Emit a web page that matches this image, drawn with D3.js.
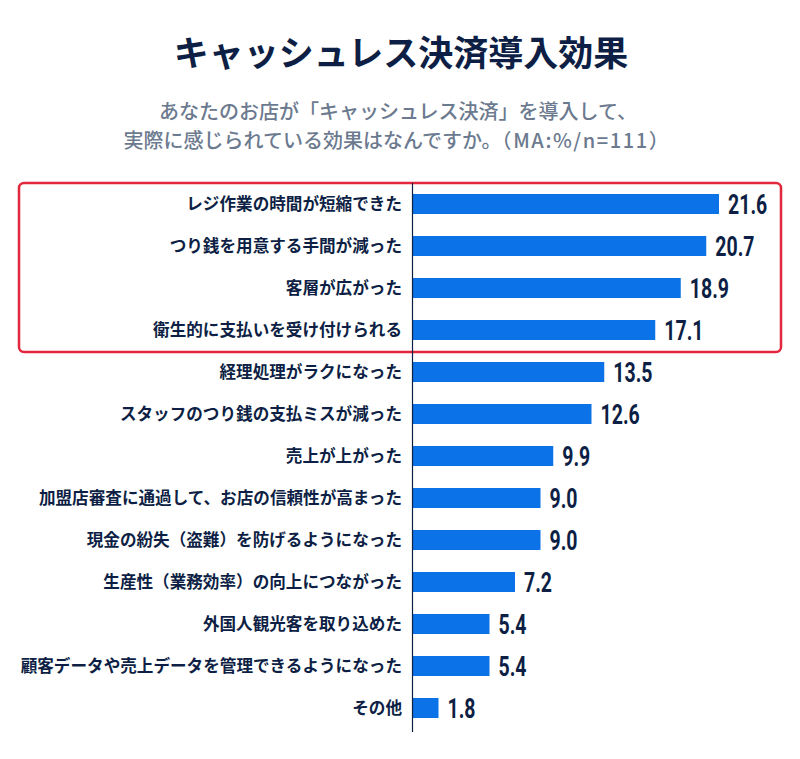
<!DOCTYPE html>
<html><head><meta charset="utf-8">
<script src="https://cdn.jsdelivr.net/npm/d3@7"></script>
<style>
html,body{margin:0;padding:0;background:#fff;}
svg{display:block;}
</style></head>
<body>
<svg id="chart" width="800" height="759"></svg>
<script>
const categories = [
  "レジ作業の時間が短縮できた",
  "つり銭を用意する手間が減った",
  "客層が広がった",
  "衛生的に支払いを受け付けられる",
  "経理処理がラクになった",
  "スタッフのつり銭の支払ミスが減った",
  "売上が上がった",
  "加盟店審査に通過して、お店の信頼性が高まった",
  "現金の紛失（盗難）を防げるようになった",
  "生産性（業務効率）の向上につながった",
  "外国人観光客を取り込めた",
  "顧客データや売上データを管理できるようになった",
  "その他"
];
const values = [21.6, 20.7, 18.9, 17.1, 13.5, 12.6, 9.9, 9.0, 9.0, 7.2, 5.4, 5.4, 1.8];
const titleText = "キャッシュレス決済導入効果";
const subtitleLine1 = "あなたのお店が「キャッシュレス決済」を導入して、";
const subtitleLine2 = "実際に感じられている効果はなんですか。";
const subtitleNote = "（MA:%/n=111）";
const highlightCount = 4;

const svg = d3.select("#chart");
const navy = "#0e1f45";
const jp = "'Noto Sans CJK JP','Noto Sans',sans-serif";

svg.append("text").attr("x", 401).attr("y", 66).attr("text-anchor", "middle")
  .attr("font-family", jp).attr("font-weight", 700).attr("font-size", 35)
  .attr("fill", navy).text(titleText);

const subStyle = s => s.attr("text-anchor", "middle").attr("font-family", jp)
  .attr("font-weight", 500).attr("font-size", 20).attr("fill", "#6c7a8f");
svg.append("text").attr("x", 398).attr("y", 119).call(subStyle).text(subtitleLine1);
const t2 = svg.append("text").attr("x", 397).attr("y", 148).call(subStyle);
t2.append("tspan").text(subtitleLine2);
t2.append("tspan").attr("letter-spacing", 1.6).text(subtitleNote);

const x0 = 413;
const x = d3.scaleLinear().domain([0, 21.6]).range([x0, 719]);
const y = d3.scaleBand().domain(categories).range([183, 729]).paddingInner(0.524).paddingOuter(0.262);

// highlight box
const yTop = y(categories[0]) - 11, yBot = y(categories[highlightCount - 1]) + y.bandwidth() + 12;
svg.append("rect").attr("x", 19).attr("y", yTop).attr("width", 762).attr("height", yBot - yTop)
  .attr("rx", 5).attr("fill", "none").attr("stroke", "#e3263c").attr("stroke-width", 2.5);

svg.selectAll("rect.bar").data(values).join("rect").attr("class", "bar")
  .attr("x", x0).attr("y", (d, i) => y(categories[i]))
  .attr("width", d => x(d) - x0).attr("height", y.bandwidth())
  .attr("fill", "#0b72e7");

svg.append("line").attr("x1", 412.5).attr("x2", 412.5).attr("y1", 183).attr("y2", 732)
  .attr("stroke", navy).attr("stroke-width", 1.2);

svg.selectAll("text.cat").data(categories).join("text").attr("class", "cat")
  .attr("x", 402).attr("y", d => y(d) + y.bandwidth() / 2).attr("dy", "0.36em")
  .attr("text-anchor", "end").attr("font-family", jp).attr("font-weight", 700)
  .attr("font-size", 16.6).attr("fill", navy).text(d => d);

svg.selectAll("text.val").data(values).join("text").attr("class", "val")
  .attr("transform", (d, i) => `translate(${x(d) + 9},${y(categories[i]) + y.bandwidth() / 2 + 10}) scale(0.71,1)`)
  .attr("font-family", "Roboto,sans-serif").attr("font-weight", 700).attr("font-size", 27.5)
  .attr("fill", navy).text(d => d.toFixed(1));
</script>
</body></html>
